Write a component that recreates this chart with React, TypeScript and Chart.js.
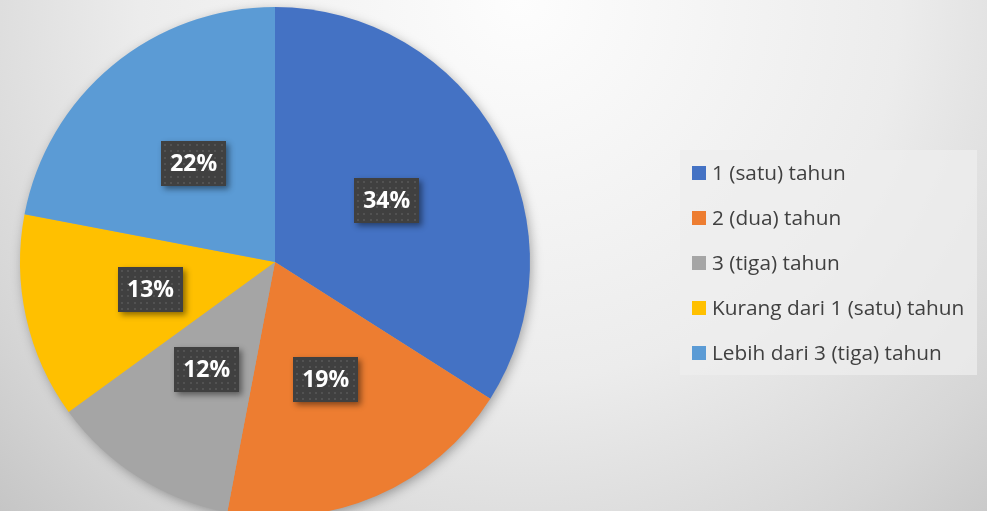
import React, { useEffect, useRef } from "react";
import { Chart, registerables } from "chart.js";

Chart.register(...registerables);

const categories = [
  "1 (satu) tahun",
  "2 (dua) tahun",
  "3 (tiga) tahun",
  "Kurang dari 1 (satu) tahun",
  "Lebih dari 3 (tiga) tahun",
];
const values = [34, 19, 12, 13, 22];
const colors = ["#4472C4", "#ED7D31", "#A5A5A5", "#FFC000", "#5B9BD5"];

const FONT = "'Open Sans', 'DejaVu Sans', sans-serif";

const pieShadow = {
  id: "pieShadow",
  beforeDatasetsDraw(chart: any) {
    const meta = chart.getDatasetMeta(0);
    const arc = meta.data[0];
    if (!arc) return;
    const { x, y, outerRadius } = arc.getProps(["x", "y", "outerRadius"], true);
    const ctx = chart.ctx;
    ctx.save();
    ctx.shadowColor = "rgba(0,0,0,0.35)";
    ctx.shadowBlur = 12;
    ctx.shadowOffsetX = 2;
    ctx.shadowOffsetY = 3;
    ctx.fillStyle = "#a5a5a5";
    ctx.beginPath();
    ctx.arc(x, y, outerRadius - 1, 0, Math.PI * 2);
    ctx.fill();
    ctx.restore();
  },
};

const boxLabels = {
  id: "boxLabels",
  afterDatasetsDraw(chart: any) {
    const ctx = chart.ctx;
    const meta = chart.getDatasetMeta(0);
    const data = chart.data.datasets[0].data as number[];
    const total = data.reduce((a, b) => a + b, 0);
    meta.data.forEach((arc: any, i: number) => {
      const p = arc.tooltipPosition();
      const text = Math.round((data[i] / total) * 100) + "%";
      ctx.save();
      ctx.font = `bold 23px ${FONT}`;
      const tw = ctx.measureText(text).width;
      const w = Math.round(tw + 18);
      const h = 45;
      const x0 = Math.round(p.x - w / 2);
      const y0 = Math.round(p.y - h / 2);
      ctx.shadowColor = "rgba(0,0,0,0.45)";
      ctx.shadowBlur = 6;
      ctx.shadowOffsetX = 3;
      ctx.shadowOffsetY = 3;
      ctx.fillStyle = "#404040";
      ctx.fillRect(x0, y0, w, h);
      ctx.shadowColor = "transparent";
      ctx.fillStyle = "#525252";
      for (let yy = y0 + 3; yy < y0 + h - 1; yy += 6.3) {
        for (let xx = x0 + 3; xx < x0 + w - 1; xx += 6.3) {
          ctx.fillRect(Math.round(xx), Math.round(yy), 2, 2);
        }
      }
      ctx.fillStyle = "#ffffff";
      ctx.textAlign = "center";
      ctx.textBaseline = "middle";
      ctx.fillText(text, p.x, p.y + 1);
      ctx.restore();
    });
  },
};

export default function App() {
  const ref = useRef<HTMLCanvasElement | null>(null);
  useEffect(() => {
    if (!ref.current) return;
    const chart = new Chart(ref.current, {
      type: "pie",
      data: {
        labels: categories,
        datasets: [
          {
            data: values,
            backgroundColor: colors,
            borderWidth: 0,
          },
        ],
      },
      options: {
        animation: false,
        responsive: false,
        devicePixelRatio: 1,
        layout: { padding: { left: 20, top: 7, right: 457, bottom: 13 } },
        plugins: {
          legend: { display: false },
          tooltip: { enabled: false },
        },
      },
      plugins: [pieShadow, boxLabels],
    });
    return () => chart.destroy();
  }, []);

  return (
    <div
      style={{
        position: "fixed",
        left: 0,
        top: 0,
        width: 987,
        height: 511,
        overflow: "hidden",
        background:
          "radial-gradient(circle at 520px 0px, #fdfdfd 0px, #ececec 380px, #d6d6d6 600px, #bfbfbf 780px)",
      }}
    >
      <canvas
        ref={ref}
        width={987}
        height={530}
        style={{ position: "absolute", left: 0, top: 0, width: 987, height: 530 }}
      />
      <div
        style={{
          position: "absolute",
          left: 680,
          top: 150,
          width: 297,
          height: 225,
          background: "rgba(238,238,238,0.75)",
          fontFamily: FONT,
          fontSize: 20.8,
          color: "#404040",
        }}
      >
        {categories.map((c, i) => (
          <div
            key={c}
            style={{
              display: "flex",
              alignItems: "center",
              height: 45,
            }}
          >
            <span
              style={{
                display: "inline-block",
                width: 14,
                height: 14,
                marginLeft: 12,
                marginRight: 6,
                background: colors[i],
                flex: "none",
              }}
            />
            <span style={{ whiteSpace: "nowrap", lineHeight: "45px" }}>{c}</span>
          </div>
        ))}
      </div>
    </div>
  );
}
